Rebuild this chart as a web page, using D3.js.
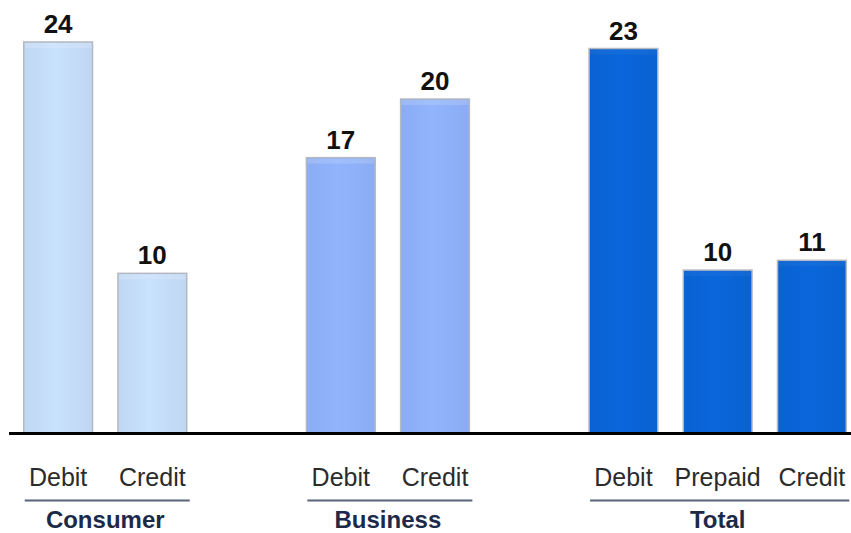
<!DOCTYPE html>
<html>
<head>
<meta charset="utf-8">
<script src="https://cdn.jsdelivr.net/npm/d3@7"></script>
<style>
  html, body { margin: 0; padding: 0; background: #fff; overflow: hidden; }
  svg { display: block; }
</style>
</head>
<body>
<svg id="chart" width="851" height="533"></svg>
<script>
// ---- data ----
const slots = ["Consumer|Debit", "Consumer|Credit", "gap1", "Business|Debit", "Business|Credit", "gap2", "Total|Debit", "Total|Prepaid", "Total|Credit"];
const groups = ["Consumer", "Business", "Total"];
const categories = ["Debit", "Credit", "Debit", "Credit", "Debit", "Prepaid", "Credit"];
const barGroups = ["Consumer", "Consumer", "Business", "Business", "Total", "Total", "Total"];
const values = [24, 9.8, 16.9, 20.5, 23.6, 10.0, 10.6];   // bar heights
const labels = ["24", "10", "17", "20", "23", "10", "11"];
const groupColors = { Consumer: "#c4dcf8", Business: "#8eb0f8", Total: "#0a64d6" };

// ---- layout ----
const svg = d3.select("#chart");
const baseY = 433;
const x = d3.scaleBand().domain(slots).range([11, 859]).paddingInner(0.27).paddingOuter(0.135);
const y = d3.scaleLinear().domain([0, 24]).range([baseY, 42]);

const bars = categories.map((c, i) => ({ cat: c, group: barGroups[i], value: values[i], label: labels[i], key: barGroups[i] + "|" + c }));

const defs = svg.append("defs");
groups.forEach(g => {
  const grad = defs.append("linearGradient").attr("id", "grad-" + g).attr("x1", 0).attr("x2", 1).attr("y1", 0).attr("y2", 0);
  const base = d3.color(groupColors[g]);
  grad.append("stop").attr("offset", "0%").attr("stop-color", base.darker(0.06));
  grad.append("stop").attr("offset", "45%").attr("stop-color", base.brighter(0.06));
  grad.append("stop").attr("offset", "100%").attr("stop-color", base.darker(0.06));
});

svg.selectAll("rect.bar").data(bars).enter().append("rect")
  .attr("class", "bar")
  .attr("x", d => x(d.key))
  .attr("y", d => y(d.value))
  .attr("width", x.bandwidth())
  .attr("height", d => baseY - y(d.value))
  .attr("fill", d => "url(#grad-" + d.group + ")")
  .attr("stroke", "#b4b8c0")
  .attr("stroke-width", 1.5);

// lighter top strip
svg.selectAll("rect.top").data(bars).enter().append("rect")
  .attr("x", d => x(d.key) + 1)
  .attr("y", d => y(d.value) + 1)
  .attr("width", x.bandwidth() - 2)
  .attr("height", 5)
  .attr("fill", "#ffffff")
  .attr("opacity", d => d.group === "Total" ? 0.04 : 0.15);

// value labels
svg.selectAll("text.val").data(bars).enter().append("text")
  .attr("x", d => x(d.key) + x.bandwidth() / 2)
  .attr("y", d => y(d.value) - 9)
  .attr("text-anchor", "middle")
  .attr("font-family", "Liberation Sans, Arial, sans-serif")
  .attr("font-weight", "bold")
  .attr("font-size", 26)
  .attr("fill", "#111")
  .text(d => d.label);

// baseline
svg.append("line")
  .attr("x1", 9).attr("x2", 851)
  .attr("y1", baseY + 0.5).attr("y2", baseY + 0.5)
  .attr("stroke", "#000").attr("stroke-width", 3);

// category labels
svg.selectAll("text.cat").data(bars).enter().append("text")
  .attr("x", d => x(d.key) + x.bandwidth() / 2)
  .attr("y", 486)
  .attr("text-anchor", "middle")
  .attr("font-family", "Liberation Sans, Arial, sans-serif")
  .attr("font-size", 25)
  .attr("fill", "#2b2b2b")
  .text(d => d.cat);

// group underlines and labels
groups.forEach(g => {
  const keys = bars.filter(b => b.group === g).map(b => b.key);
  const x0 = x(keys[0]) + 1;
  const x1 = Math.min(x(keys[keys.length - 1]) + x.bandwidth() + 3, 851);
  svg.append("line")
    .attr("x1", x0).attr("x2", x1)
    .attr("y1", 500.5).attr("y2", 500.5)
    .attr("stroke", "#56657c").attr("stroke-width", 2);
  svg.append("text")
    .attr("x", (x(keys[0]) + x(keys[keys.length - 1]) + x.bandwidth()) / 2)
    .attr("y", 528)
    .attr("text-anchor", "middle")
    .attr("font-family", "Liberation Sans, Arial, sans-serif")
    .attr("font-weight", "bold")
    .attr("font-size", 24)
    .attr("fill", "#1c2a4a")
    .text(g);
});
</script>
</body>
</html>
